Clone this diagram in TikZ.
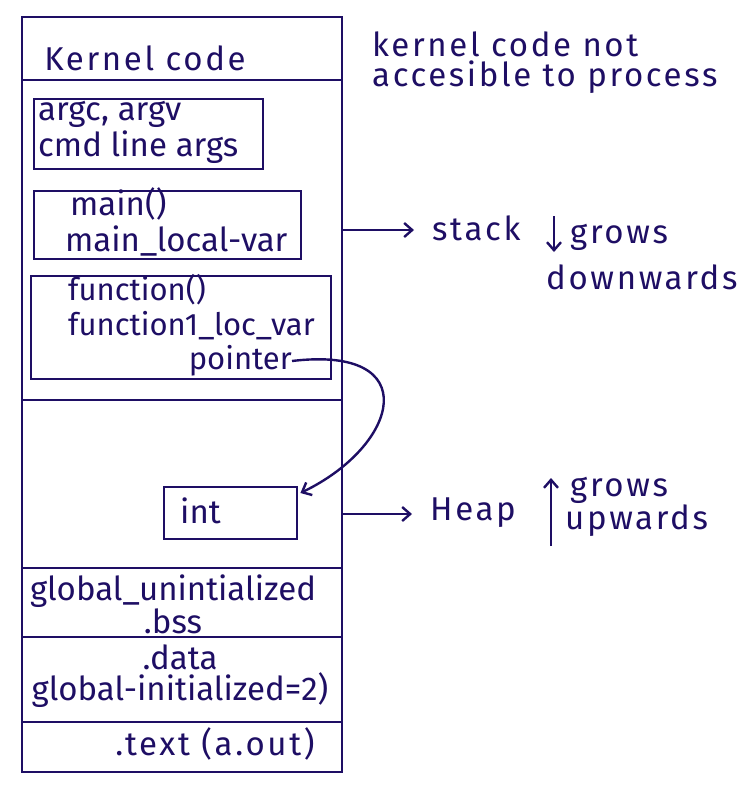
\documentclass[tikz,border=0pt]{standalone}
\usepackage{fontspec}
\setmainfont{Fira Sans}
\usetikzlibrary{positioning,calc,arrows.meta}
\definecolor{ink}{RGB}{30,14,100}
\tikzset{>={Straight Barb[length=8pt,width=14pt]},
  seg/.style={draw=ink,line width=2.4pt},
  framebox/.style={draw=ink,line width=2.4pt,rectangle,inner sep=0pt,anchor=north west},
  hand/.style={text=ink,font=\fontsize{33}{36}\selectfont,inner sep=0pt},
  spaced/.style={hand,font=\fontsize{33}{30}\selectfont\addfontfeatures{LetterSpace=8}},
}

\begin{document}
\begin{tikzpicture}[x=1pt,y=-1pt]
    \useasboundingbox (0,0) rectangle (742,788);
    % memory column
    \draw [seg] (22,17) rectangle (342,772);
    \draw [seg] (22,80) -- (342,80)
                (22,400) -- (342,400)
                (22,568) -- (342,568)
                (22,637) -- (342,637)
                (22,722) -- (342,722);
    \node [spaced] (kernel) at (145,58) {Kernel code};
    % stack frames
    \node [framebox,minimum width=229pt,minimum height=70pt] (args) at (33,98) {};
    \node [framebox,minimum width=267pt,minimum height=68pt] (main) at (33,190) {};
    \node [framebox,minimum width=300pt,minimum height=103pt] (func) at (30,275) {};
    \node [hand,align=left,anchor=west] (argv) at (38,132) {argc, argv\\cmd line args};
    \node [hand,align=left,anchor=west] (mainvar) at (65,222) {\hspace{5pt}main()\\main\_local-var};
    \node [hand,align=left,anchor=north west,font=\fontsize{31}{35}\selectfont] (funcvar) at (68,274) {function()\\function1\_loc\_var};
    \node [hand,anchor=east,font=\fontsize{31}{35}\selectfont] (ptr) at (292,361) {pointer};
    % heap
    \node [framebox,minimum width=133pt,minimum height=52pt] (int) at (163,486) {};
    \node [hand,anchor=west] (intvar) at (180,511) {int};
    % data segments
    \node [hand,align=center,font=\fontsize{33}{28}\selectfont] (bss) at (173,604) {global\_unintialized\\.bss};
    \node [hand,align=center,font=\fontsize{33}{31}\selectfont] (data) at (180,676) {.data\\global-initialized=2)};
    \node [spaced] (text) at (215,744) {.text (a.out)};
    % notes
    \node [spaced,align=left,anchor=north west] (note) at (372,32) {kernel code not\\accesible to process};
    \coordinate (stackat) at (342,230);
    \coordinate (heapat) at (342,514);
    \node [spaced,anchor=west] (stack) at (432,228) {stack};
    \node [spaced,anchor=west] (heap) at (430,513) {Heap};
    \coordinate (dtop) at (554,216);
    \coordinate (dbot) at (554,252);
    \node [spaced,anchor=west] (sgrows) at (570,237) {grows};
    \node [spaced,anchor=west] (down) at (546,277) {downwards};
    \coordinate (ubot) at (551,546);
    \coordinate (utop) at (551,478);
    \node [spaced,anchor=west] (hgrows) at (570,490) {grows};
    \node [spaced,anchor=west] (up) at (565,521) {upwards};
    \draw [->,seg] (stackat) -- ($(stack.west)+(-18,2)$);
    \draw [->,seg] (heapat) -- ($(heap.west)+(-18,1)$);
    \draw [->,seg] (dtop) -- (dbot);
    \draw [->,seg] (ubot) -- (utop);
    \draw [->,seg] (ptr.east) .. controls (425,345) and (400,445) .. ($(int.north east)+(2,7)$);
\end{tikzpicture}
\end{document}
